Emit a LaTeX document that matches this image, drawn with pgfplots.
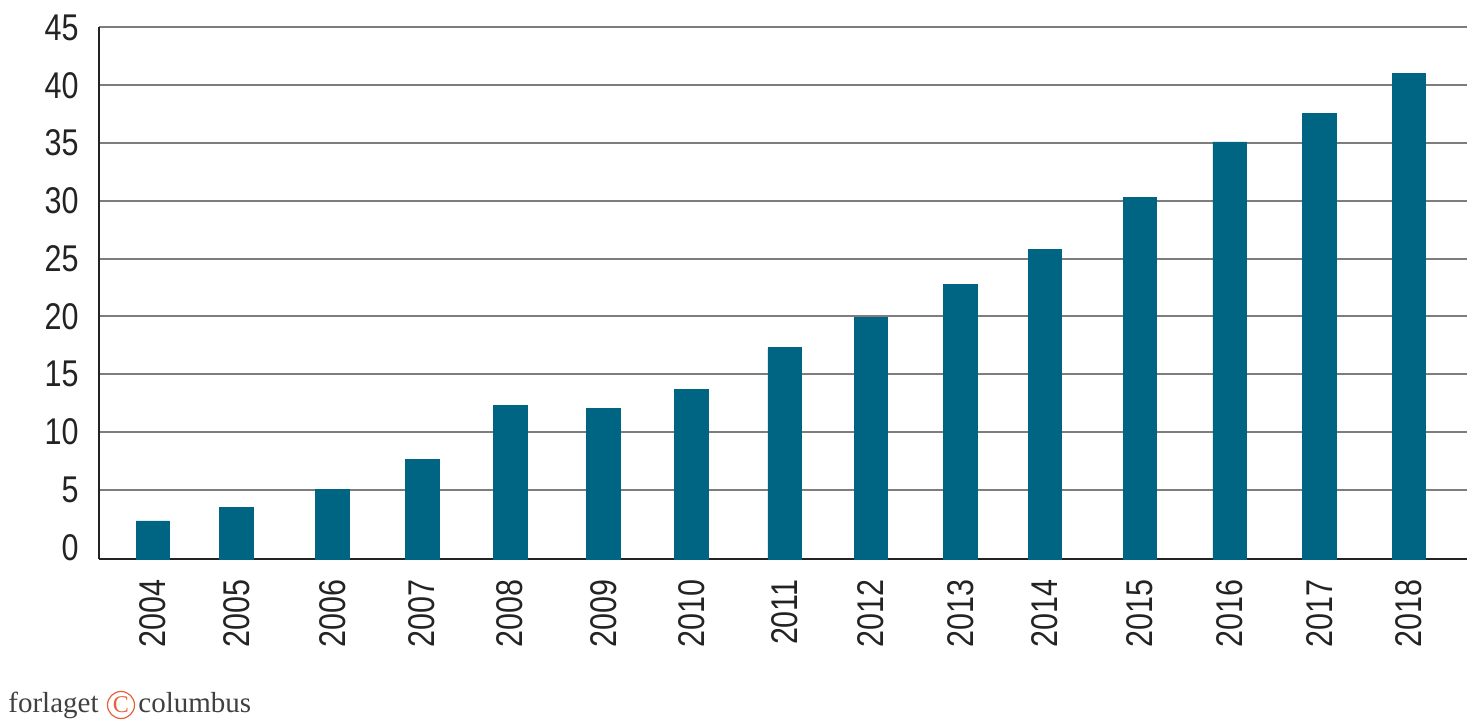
\documentclass[border=0pt]{standalone}
\usepackage{fontspec}
\setmainfont{Liberation Sans}[FakeStretch=0.82]
\newfontfamily\footfont{Liberation Serif}
\usepackage{pgfplots}
\usepackage{pgfplotstable}
\pgfplotsset{compat=1.18}

\definecolor{barblue}{RGB}{0,101,131}
\definecolor{gridgray}{RGB}{125,125,125}
\definecolor{axisblack}{RGB}{35,35,35}
\definecolor{logoorange}{RGB}{230,96,60}

% position, year, value
\pgfplotstableread{
x    year v
0    2004 2.3
0.93 2005 3.5
2    2006 5.0
3    2007 7.6
3.98 2008 12.3
5.02 2009 12.0
6    2010 13.7
7.04 2011 17.3
8    2012 19.9
9    2013 22.8
9.94 2014 25.8
11   2015 30.3
12   2016 35.1
13   2017 37.6
14   2018 41.0
}\data

\begin{document}
\begin{tikzpicture}
	\begin{axis}[
			at={(0,0)}, anchor=south west,
			scale only axis,
			width=684pt,
			height=265.75pt,
			xmin=-0.602, xmax=14.646,
			ymin=-1, ymax=45,
			axis x line=bottom,
			axis y line=left,
			axis line style={-, axisblack, line width=1.2pt},
			major tick length=0pt,
			xtick=data,
			xticklabels from table={\data}{year},
			ytick={5,10,...,45},
			extra y ticks={0},
			extra y tick style={grid=none},
			ymajorgrids,
			grid style={gridgray, line width=1pt},
			/pgf/number format/assume math mode=true,
			tick label style={font=\fontsize{18.6}{20}\selectfont, text=axisblack},
			xticklabel style={rotate=90, anchor=east, inner sep=0pt},
			xticklabel shift=10pt,
			yticklabel style={anchor=east, inner sep=0pt},
			yticklabel shift=10pt,
			]
			% bottom strip of every bar, from the axis line up to 0
			\addplot[ybar, bar shift=0pt, bar width=0.373, fill=barblue, draw=barblue, line width=0.3pt]
				table[x=x, y expr=-1] {\data};
			\addplot[ybar, bar shift=0pt, bar width=0.373, fill=barblue, draw=barblue, line width=0.3pt]
				table[x=x, y=v] {\data};
	\end{axis}
	% footer
	\node[anchor=base west, inner sep=0pt, text=black!75, font=\footfont\fontsize{14.5}{16}\selectfont]
		at (-45.5pt,-76.5pt) {forlaget};
	\node[circle, draw=logoorange, line width=0.6pt, minimum size=13.5pt, inner sep=0pt,
		text=logoorange, font=\footfont\fontsize{12}{13}\selectfont] at (11pt,-73pt) {C};
	\node[anchor=base west, inner sep=0pt, text=black!75, font=\footfont\fontsize{14.5}{16}\selectfont]
		at (19.5pt,-76.5pt) {columbus};
	\path (-49.5pt,-82pt) rectangle (692pt,279.5pt);
\end{tikzpicture}
\end{document}
